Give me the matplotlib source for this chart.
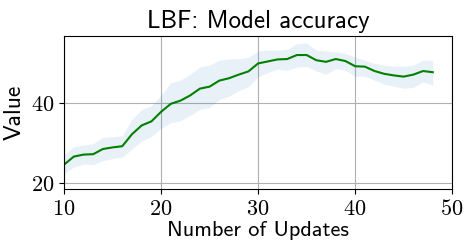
import numpy as np
import matplotlib
matplotlib.use("Agg")
from matplotlib import pyplot as plt

plt.rcParams['mathtext.fontset'] = 'cm'

# data
updates = [10, 11, 12, 13, 14, 15, 16, 17, 18, 19, 20, 21, 22, 23, 24, 25, 26, 27, 28,
           29, 30, 31, 32, 33, 34, 35, 36, 37, 38, 39, 40, 41, 42, 43, 44, 45, 46, 47, 48]
mean_acc = [24.6, 26.6, 27.1, 27.2, 28.5, 28.9, 29.2, 32.2, 34.4, 35.4, 37.8, 39.8, 40.6,
            41.9, 43.6, 44.1, 45.6, 46.2, 47.1, 47.9, 49.9, 50.4, 50.9, 51.0, 52.0, 52.0,
            50.7, 50.3, 51.0, 50.5, 49.2, 49.1, 48.0, 47.3, 46.9, 46.6, 47.1, 48.0, 47.7]
upper_acc = [27.1, 29.1, 29.5, 29.8, 31.4, 31.6, 31.8, 35.9, 38.4, 39.3, 42.0, 45.1, 45.7,
             47.2, 49.0, 49.5, 50.7, 51.0, 51.1, 51.4, 53.0, 53.2, 53.2, 53.4, 54.9, 55.0,
             53.2, 53.0, 52.8, 52.4, 51.5, 50.7, 49.9, 49.5, 49.2, 49.2, 49.5, 50.7, 50.7]
lower_acc = [22.3, 24.0, 24.7, 24.6, 25.6, 26.1, 26.5, 28.5, 30.5, 31.6, 33.7, 35.1, 35.6,
             36.9, 38.4, 38.9, 40.9, 41.7, 43.1, 44.1, 46.6, 47.6, 48.5, 48.2, 49.0, 49.2,
             48.0, 47.2, 48.6, 48.2, 46.7, 46.7, 45.7, 44.7, 44.2, 43.7, 43.9, 45.3, 44.5]
xticks = [10, 20, 30, 40, 50]
yticks = [20, 40]

fig, ax = plt.subplots(figsize=(4.71, 2.52), dpi=100)
fig.subplots_adjust(left=0.136, right=0.96, top=0.857, bottom=0.25)

ax.fill_between(updates, lower_acc, upper_acc, color='C0', alpha=0.1, lw=0)
ax.plot(updates, mean_acc, color='green', lw=1.5)

ax.set_xlim(10, 50)
ax.set_ylim(18.5, 56.75)
ax.set_xticks(xticks)
ax.set_xticklabels(['$%d$' % t for t in xticks], fontsize=16)
ax.set_yticks(yticks)
ax.set_yticklabels(['$%d$' % t for t in yticks], fontsize=16)
ax.grid(True, color='#b0b0b0', lw=0.8)
ax.set_axisbelow(True)

ax.set_title('LBF: Model accuracy', fontsize=18, fontfamily='cmss10')
ax.set_xlabel('Number of Updates', fontsize=16, fontfamily='cmss10', labelpad=2)
ax.set_ylabel('Value', fontsize=17, fontfamily='cmss10', labelpad=4)

plt.savefig('out.png', dpi=100)
